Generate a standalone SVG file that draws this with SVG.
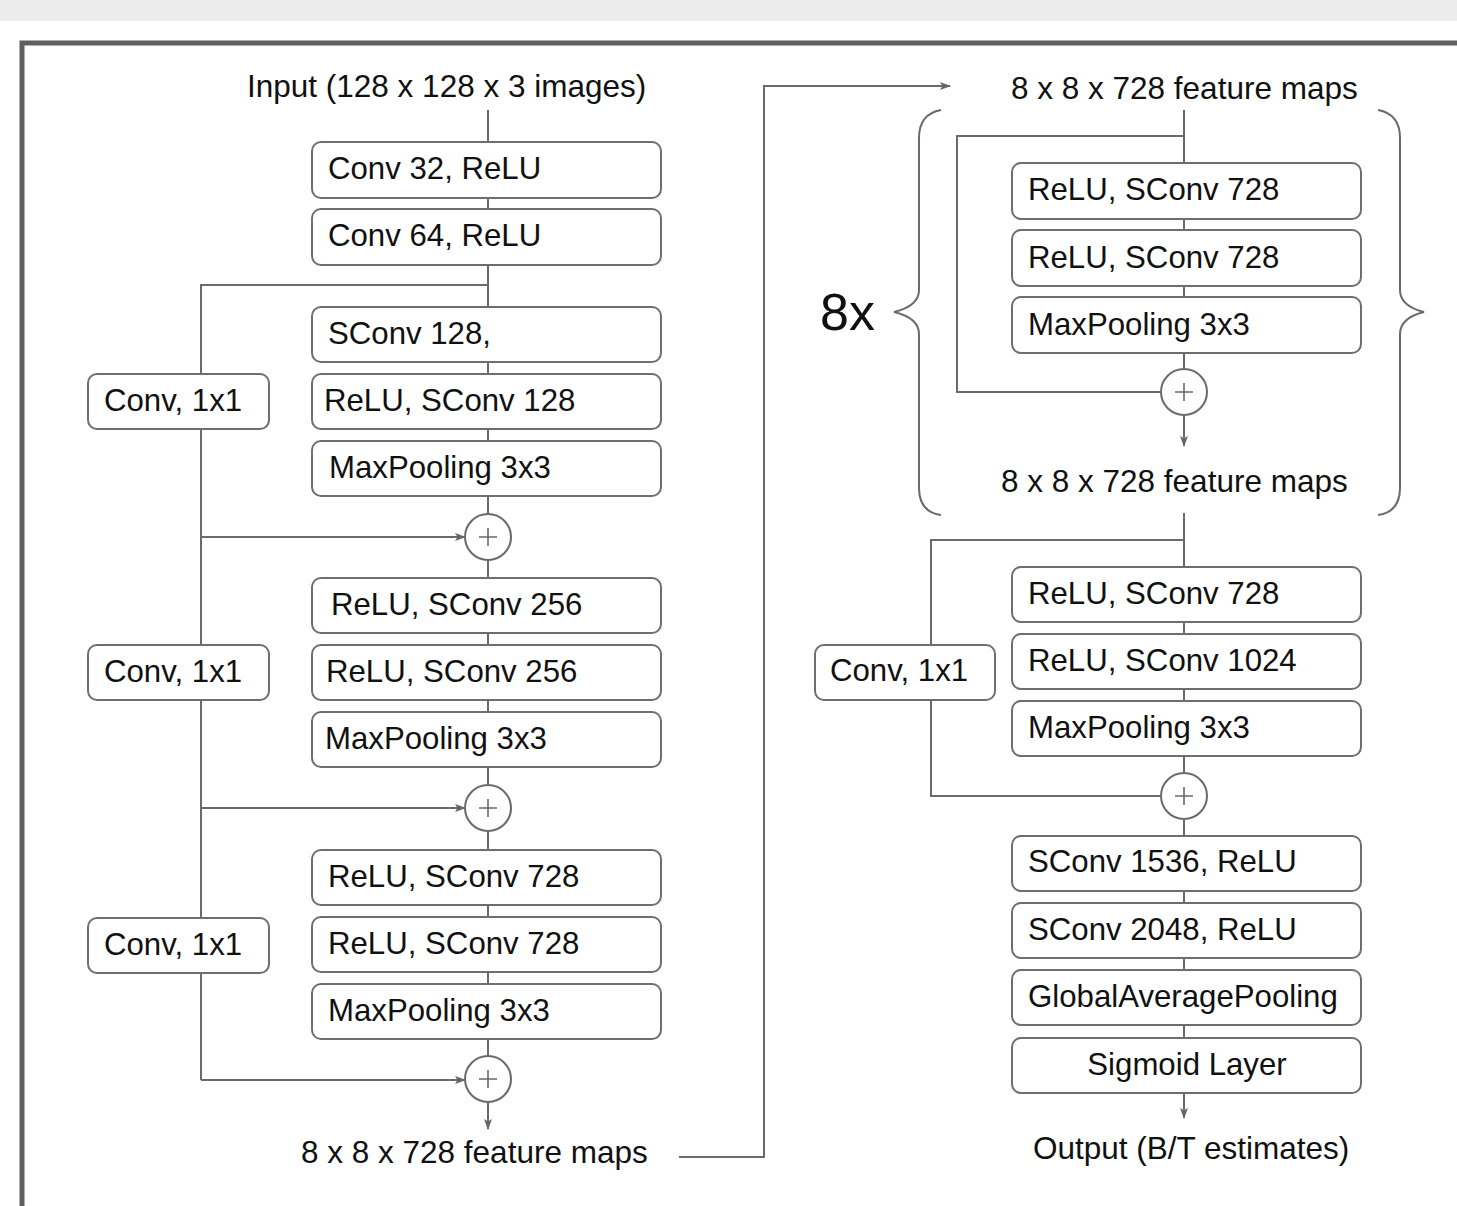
<svg xmlns="http://www.w3.org/2000/svg" width="1457" height="1206" viewBox="0 0 1457 1206">
<defs>
<marker id="ah" markerWidth="11" markerHeight="8" refX="10" refY="4" orient="auto" markerUnits="userSpaceOnUse">
<path d="M0,0 L11,4 L0,8 L2.5,4 Z" fill="#666"/>
</marker>
<style>
.bx{fill:#fff;stroke:#6e6e6e;stroke-width:2}
.ln{fill:none;stroke:#6a6a6a;stroke-width:2}
.pl{fill:#fff;stroke:#6a6a6a;stroke-width:2}
.ps{fill:none;stroke:#6a6a6a;stroke-width:1.6}
.t{font-family:"Liberation Sans",Arial,sans-serif;font-size:31.2px;fill:#111}
.lb{font-family:"Liberation Sans",Arial,sans-serif;font-size:31.5px;fill:#111}
</style>
</defs>
<rect x="0" y="0" width="1457" height="1206" fill="#fff"/>
<rect x="0" y="0" width="1457" height="21" fill="#ececec"/>
<path d="M22,1210 L22,43 L1460,43" fill="none" stroke="#5f5f5f" stroke-width="5"/>

<g id="connectors">
<line class="ln" x1="488" y1="110" x2="488" y2="1102"/>
<line class="ln" x1="488" y1="1102" x2="488" y2="1129" marker-end="url(#ah)"/>
<polyline class="ln" points="488,285 201,285 201,1080"/>
<line class="ln" x1="201" y1="537" x2="465" y2="537" marker-end="url(#ah)"/>
<line class="ln" x1="201" y1="808" x2="465" y2="808" marker-end="url(#ah)"/>
<line class="ln" x1="201" y1="1080" x2="465" y2="1080" marker-end="url(#ah)"/>
<polyline class="ln" points="679,1157 764,1157 764,86 950,86" marker-end="url(#ah)"/>
<line class="ln" x1="1184" y1="110" x2="1184" y2="415"/>
<line class="ln" x1="1184" y1="415" x2="1184" y2="446" marker-end="url(#ah)"/>
<polyline class="ln" points="1184,136 957,136 957,392 1161,392"/>
<line class="ln" x1="1184" y1="513" x2="1184" y2="1093"/>
<line class="ln" x1="1184" y1="1093" x2="1184" y2="1118" marker-end="url(#ah)"/>
<polyline class="ln" points="1184,540 931,540 931,796 1161,796"/>
<path class="ln" d="M941,110 Q919,114 919,138 L919,290 Q919,306 894,312 Q919,318 919,334 L919,488 Q919,512 941,515"/>
<path class="ln" d="M1378,110 Q1400,114 1400,138 L1400,290 Q1400,306 1424,312 Q1400,318 1400,334 L1400,488 Q1400,512 1378,515"/>
</g>

<g id="input"><text class="lb" x="247" y="97">Input (128 x 128 x 3 images)</text></g>

<g id="conv32"><rect class="bx" x="312" y="142" width="349" height="56" rx="9"/><text class="t" x="328" y="179">Conv 32, ReLU</text></g>
<g id="conv64"><rect class="bx" x="312" y="209" width="349" height="56" rx="9"/><text class="t" x="328" y="246">Conv 64, ReLU</text></g>
<g id="sconv128a"><rect class="bx" x="312" y="307" width="349" height="55" rx="9"/><text class="t" x="328" y="344">SConv 128,</text></g>
<g id="sconv128b"><rect class="bx" x="312" y="374" width="349" height="55" rx="9"/><text class="t" x="324" y="411">ReLU, SConv 128</text></g>
<g id="maxpool1"><rect class="bx" x="312" y="441" width="349" height="55" rx="9"/><text class="t" x="329" y="478">MaxPooling 3x3</text></g>
<g id="skipconv1"><rect class="bx" x="88" y="374" width="181" height="55" rx="9"/><text class="t" x="104" y="411">Conv, 1x1</text></g>
<g id="add1"><circle class="pl" cx="488" cy="537" r="23"/><path class="ps" d="M479,537 H497 M488,528 V546"/></g>

<g id="sconv256a"><rect class="bx" x="312" y="578" width="349" height="55" rx="9"/><text class="t" x="331" y="615">ReLU, SConv 256</text></g>
<g id="sconv256b"><rect class="bx" x="312" y="645" width="349" height="55" rx="9"/><text class="t" x="326" y="682">ReLU, SConv 256</text></g>
<g id="maxpool2"><rect class="bx" x="312" y="712" width="349" height="55" rx="9"/><text class="t" x="325" y="749">MaxPooling 3x3</text></g>
<g id="skipconv2"><rect class="bx" x="88" y="645" width="181" height="55" rx="9"/><text class="t" x="104" y="682">Conv, 1x1</text></g>
<g id="add2"><circle class="pl" cx="488" cy="808" r="23"/><path class="ps" d="M479,808 H497 M488,799 V817"/></g>

<g id="sconv728a"><rect class="bx" x="312" y="850" width="349" height="55" rx="9"/><text class="t" x="328" y="887">ReLU, SConv 728</text></g>
<g id="sconv728b"><rect class="bx" x="312" y="917" width="349" height="55" rx="9"/><text class="t" x="328" y="954">ReLU, SConv 728</text></g>
<g id="maxpool3"><rect class="bx" x="312" y="984" width="349" height="55" rx="9"/><text class="t" x="328" y="1021">MaxPooling 3x3</text></g>
<g id="skipconv3"><rect class="bx" x="88" y="918" width="181" height="55" rx="9"/><text class="t" x="104" y="955">Conv, 1x1</text></g>
<g id="add3"><circle class="pl" cx="488" cy="1079" r="23"/><path class="ps" d="M479,1079 H497 M488,1070 V1088"/></g>

<g id="fm1"><text class="lb" x="301" y="1163">8 x 8 x 728 feature maps</text></g>

<g id="fm2"><text class="lb" x="1011" y="99">8 x 8 x 728 feature maps</text></g>
<g id="repeat"><text class="lb" x="820" y="330" style="font-size:52px">8x</text></g>
<g id="mid1"><rect class="bx" x="1012" y="163" width="349" height="56" rx="9"/><text class="t" x="1028" y="200">ReLU, SConv 728</text></g>
<g id="mid2"><rect class="bx" x="1012" y="230" width="349" height="56" rx="9"/><text class="t" x="1028" y="268">ReLU, SConv 728</text></g>
<g id="mid3"><rect class="bx" x="1012" y="297" width="349" height="56" rx="9"/><text class="t" x="1028" y="335">MaxPooling 3x3</text></g>
<g id="add4"><circle class="pl" cx="1184" cy="392" r="23"/><path class="ps" d="M1175,392 H1193 M1184,383 V401"/></g>
<g id="fm3"><text class="lb" x="1001" y="492">8 x 8 x 728 feature maps</text></g>

<g id="exit1"><rect class="bx" x="1012" y="567" width="349" height="55" rx="9"/><text class="t" x="1028" y="604">ReLU, SConv 728</text></g>
<g id="exit2"><rect class="bx" x="1012" y="634" width="349" height="55" rx="9"/><text class="t" x="1028" y="671">ReLU, SConv 1024</text></g>
<g id="exit3"><rect class="bx" x="1012" y="701" width="349" height="55" rx="9"/><text class="t" x="1028" y="738">MaxPooling 3x3</text></g>
<g id="skipconv4"><rect class="bx" x="815" y="645" width="180" height="55" rx="9"/><text class="t" x="830" y="681">Conv, 1x1</text></g>
<g id="add5"><circle class="pl" cx="1184" cy="796" r="23"/><path class="ps" d="M1175,796 H1193 M1184,787 V805"/></g>

<g id="sconv1536"><rect class="bx" x="1012" y="836" width="349" height="55" rx="9"/><text class="t" x="1028" y="872">SConv 1536, ReLU</text></g>
<g id="sconv2048"><rect class="bx" x="1012" y="903" width="349" height="55" rx="9"/><text class="t" x="1028" y="940">SConv 2048, ReLU</text></g>
<g id="gap"><rect class="bx" x="1012" y="970" width="349" height="55" rx="9"/><text class="t" x="1028" y="1007">GlobalAveragePooling</text></g>
<g id="sigmoid"><rect class="bx" x="1012" y="1038" width="349" height="55" rx="9"/><text class="t" x="1187" y="1075" text-anchor="middle">Sigmoid Layer</text></g>
<g id="output"><text class="lb" x="1033" y="1159">Output (B/T estimates)</text></g>
</svg>
